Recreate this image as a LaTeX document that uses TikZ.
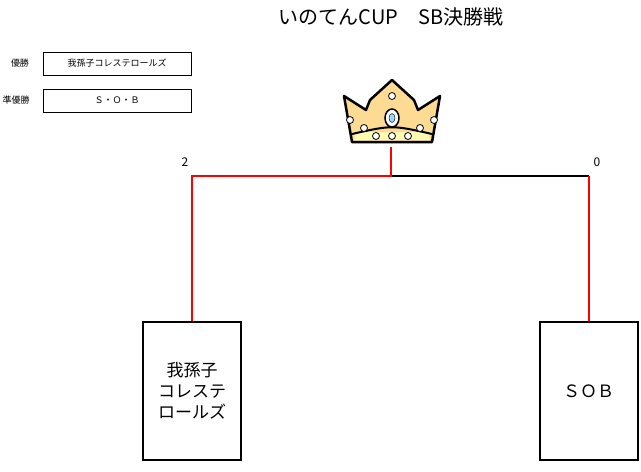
\documentclass[tikz,border=0pt]{standalone}
\usepackage{fontspec}
\setmainfont{Noto Sans CJK JP}
\begin{document}
\begin{tikzpicture}[x=1pt,y=-1pt,
  tb/.style={draw,line width=0.8pt,minimum width=148pt,minimum height=23pt,inner sep=0,font=\fontsize{9}{10}\selectfont},
  team/.style={draw,line width=2pt,minimum width=98pt,minimum height=138pt,inner sep=0,font=\fontsize{17}{21}\selectfont,align=center},
  sm/.style={font=\fontsize{9}{10}\selectfont},
  sc/.style={font=\fontsize{12}{13}\selectfont},
  win/.style={red,line width=1.4pt},
  lose/.style={black,line width=1.2pt}]
\useasboundingbox (0,0) rectangle (641,472);
\node (title) at (391,17) {\fontsize{20}{23}\selectfont いのてんCUP\quad SB決勝戦};
\node[sm] (l1) at (20,63) {優勝};
\node[tb] (w1) at (117,63.5) {我孫子コレステロールズ};
\node[sm] (l2) at (16,100) {準優勝};
\node[tb] (w2) at (117,100.5) {Ｓ・Ｏ・Ｂ};
% crown
\filldraw[fill=yellow!35!orange!40!white,draw=black,line width=2.5pt,line join=round]
 (344,96) -- (366,110) -- (370,100) -- (392,80) -- (414,100) -- (418,110) -- (440,96) -- (432,142) -- (352,142) -- cycle;
\fill[yellow!30!white] (356,132) -- (428,132) -- (430,140) -- (354,140) -- cycle;
\draw[line width=2pt] (352,134) .. controls (392,125) .. (432,134);
\foreach \p in {(350,120),(434,120),(392,96),(376,136),(408,136),(364,128),(420,128),(392,136)} \filldraw[fill=white,draw=black,line width=0.8pt] \p circle (3.5pt);
\filldraw[fill=white,draw=black,line width=1.5pt] (392,118) ellipse (7pt and 9pt);
\filldraw[fill=blue!40!cyan!40,draw=black] (392,118) ellipse (3pt and 4.5pt);
\coordinate (crown) at (391,147);
\coordinate (j) at (391,176);
\coordinate (lc) at (192,176);
\coordinate (rc) at (589,176);
\node[team] (t1) at (192,391) {我孫子\\コレステ\\ロールズ};
\node[team] (t2) at (588.5,391) {ＳＯＢ};
\node[sc] (s1) at (185,162) {2};
\node[sc] (s2) at (597,162) {0};
\draw[lose] (j) -- (rc);
\draw[win] (crown) -- (j) -- (lc) -- (t1.north -| lc);
\draw[win] (rc) -- (t2.north -| rc);
\end{tikzpicture}
\end{document}
